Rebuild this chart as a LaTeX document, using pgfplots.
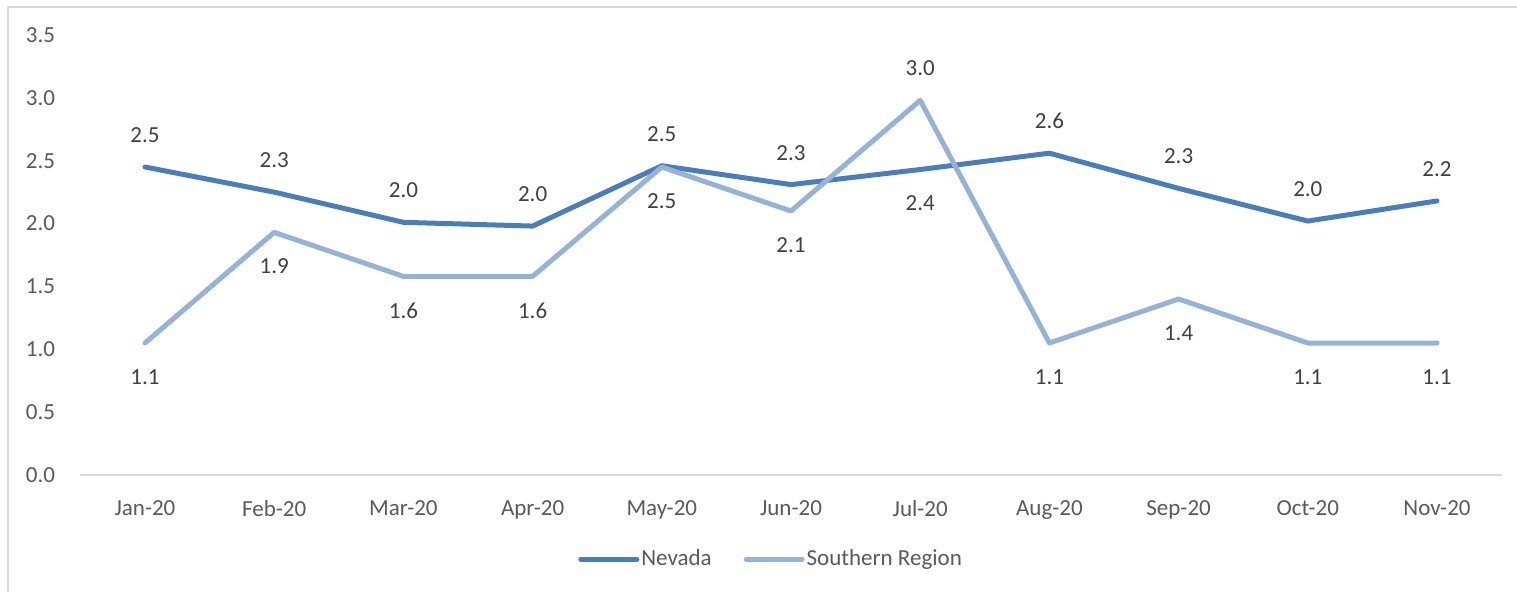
\documentclass[border=0pt]{standalone}
\usepackage{pgfplots}
\pgfplotsset{compat=1.18}
\usepackage{fontspec}
\setmainfont{Carlito}
\definecolor{nev}{HTML}{4A7EBB}
\definecolor{sou}{HTML}{95B3D7}
\definecolor{tick}{HTML}{595959}
\definecolor{lab}{HTML}{404040}
\definecolor{frame}{HTML}{D9D9D9}
\begin{document}
\begin{tikzpicture}
\useasboundingbox (0,0) rectangle (758.5bp,296bp);
\begin{axis}[
  at={(40.2bp,58.5bp)}, anchor=south west,
  scale only axis, width=710.6bp, height=220bp,
  xmin=-0.5, xmax=10.5, ymin=0, ymax=3.5,
  xtick={0,...,10},
  xticklabels={Jan-20,Feb-20,Mar-20,Apr-20,May-20,Jun-20,Jul-20,Aug-20,Sep-20,Oct-20,Nov-20},
  ytick={0,0.5,...,3.5},
  yticklabel style={/pgf/number format/fixed,/pgf/number format/fixed zerofill,/pgf/number format/precision=1, anchor=east, inner sep=0pt, xshift=-12.5bp},
  xticklabel style={anchor=north, inner sep=0pt, yshift=-12.5bp},
  /pgf/number format/assume math mode=true,
  tick label style={font=\fontsize{11.5bp}{13bp}\selectfont, text=tick},
  major tick length=0pt,
  axis y line*=left,
  y axis line style={draw=none},
  axis x line*=bottom,
  x axis line style={draw=frame, line width=1bp, -},
  clip=false,
  legend style={at={(0.486,-0.191)}, anchor=center, draw=none, fill=none,
    font=\fontsize{11.5bp}{13bp}\selectfont, text=tick, legend columns=2,
    /tikz/every even column/.append style={column sep=15bp},
    inner sep=0pt, nodes={inner sep=1bp}},
  legend image code/.code={\draw[#1, line cap=round] (0bp,0bp) -- (28bp,0bp);},
  nodes near coords style={font=\fontsize{11.5bp}{13bp}\selectfont, text=lab, inner sep=0pt},
]
\addplot[nev, line width=2.5bp, line join=round, line cap=round] coordinates {
(0,2.45) (1,2.25) (2,2.01) (3,1.98) (4,2.46) (5,2.31) (6,2.43) (7,2.56) (8,2.28) (9,2.02) (10,2.18)};
\addlegendentry{Nevada}
\addplot[sou, line width=2.5bp, line join=round, line cap=round] coordinates {
(0,1.05) (1,1.93) (2,1.58) (3,1.58) (4,2.45) (5,2.10) (6,2.98) (7,1.05) (8,1.40) (9,1.05) (10,1.05)};
\addlegendentry{Southern Region}
% labels above
\addplot[draw=none, forget plot, point meta=explicit symbolic, nodes near coords, nodes near coords align={anchor=south}, nodes near coords style={yshift=12bp}] coordinates {
(0,2.45)[2.5] (1,2.25)[2.3] (2,2.01)[2.0] (3,1.98)[2.0] (4,2.46)[2.5] (5,2.31)[2.3] (7,2.56)[2.6] (8,2.28)[2.3] (9,2.02)[2.0] (10,2.18)[2.2] (6,2.98)[3.0]};
% labels below
\addplot[draw=none, forget plot, point meta=explicit symbolic, nodes near coords, nodes near coords align={anchor=north}, nodes near coords style={yshift=-13bp}] coordinates {
(0,1.05)[1.1] (1,1.93)[1.9] (2,1.58)[1.6] (3,1.58)[1.6] (4,2.45)[2.5] (5,2.10)[2.1] (7,1.05)[1.1] (8,1.40)[1.4] (9,1.05)[1.1] (10,1.05)[1.1] (6,2.43)[2.4]};
\end{axis}
\draw[frame, line width=0.75bp] (4bp,0bp) -- (4bp,292.5bp) -- (758.5bp,292.5bp);
\end{tikzpicture}
\end{document}
